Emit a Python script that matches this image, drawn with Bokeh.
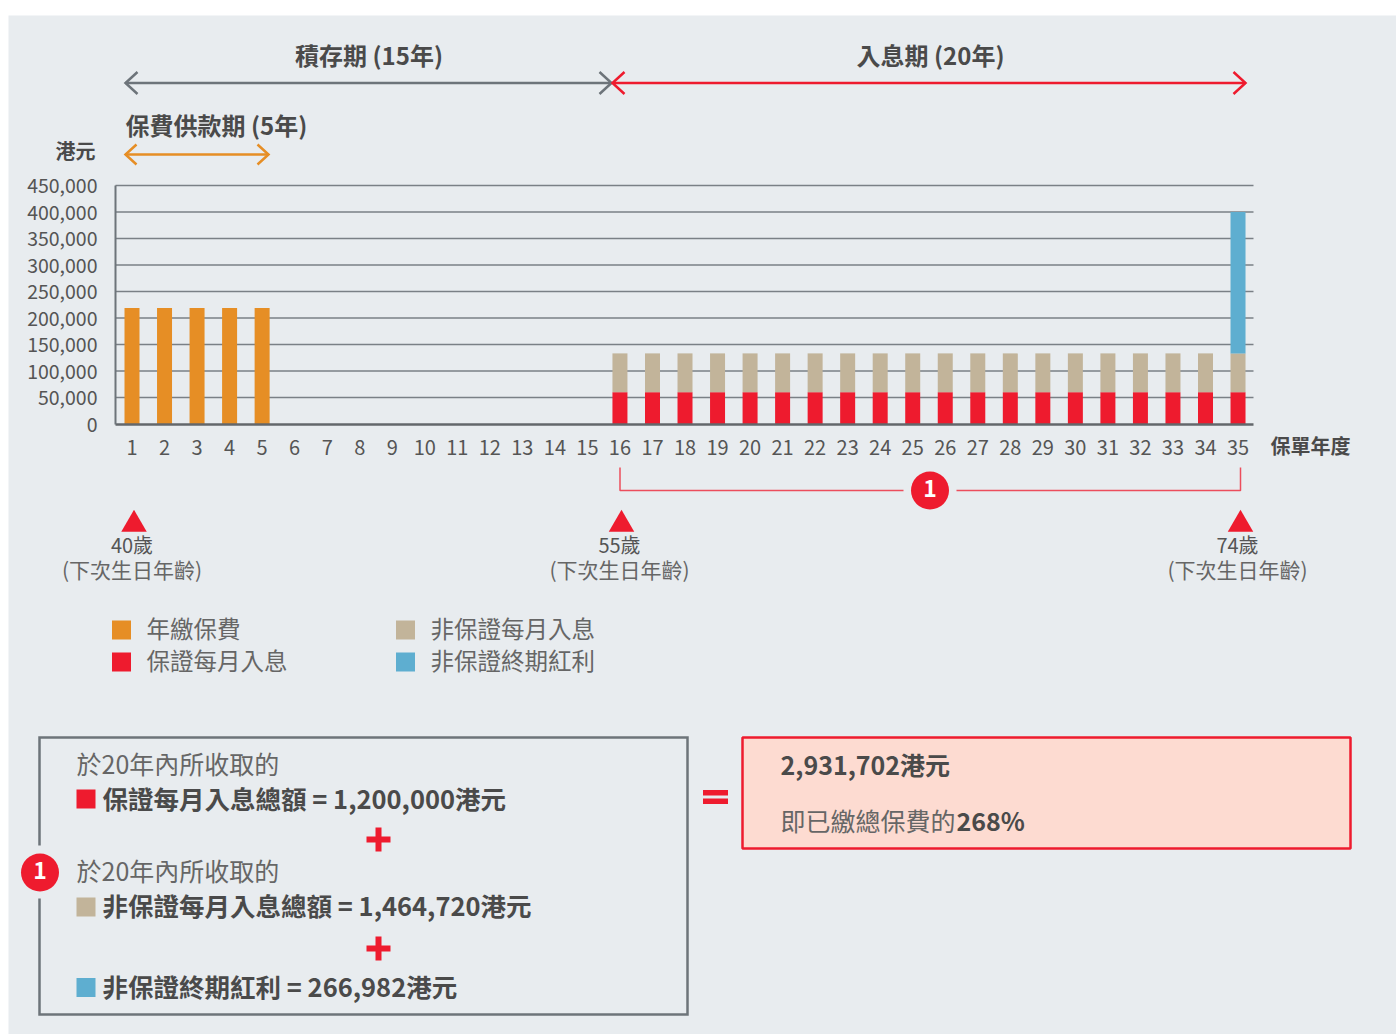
from bokeh.plotting import figure
from bokeh.models import Range1d, LinearAxis, FixedTicker, NumeralTickFormatter, ColumnDataSource
from bokeh.core.properties import value
from bokeh.embed import file_html
from bokeh.resources import INLINE

# ---------------- data ----------------
years = [1, 2, 3, 4, 5, 6, 7, 8, 9, 10, 11, 12, 13, 14, 15, 16, 17, 18,
         19, 20, 21, 22, 23, 24, 25, 26, 27, 28, 29, 30, 31, 32, 33, 34, 35]
annual_premium = [218800, 218800, 218800, 218800, 218800, 0, 0, 0, 0, 0,
                  0, 0, 0, 0, 0, 0, 0, 0, 0, 0, 0, 0, 0, 0, 0,
                  0, 0, 0, 0, 0, 0, 0, 0, 0, 0]
guaranteed_income = [0, 0, 0, 0, 0, 0, 0, 0, 0, 0, 0, 0, 0, 0, 0,
                     60000, 60000, 60000, 60000, 60000, 60000, 60000, 60000, 60000, 60000,
                     60000, 60000, 60000, 60000, 60000, 60000, 60000, 60000, 60000, 60000]
nonguaranteed_income = [0, 0, 0, 0, 0, 0, 0, 0, 0, 0, 0, 0, 0, 0, 0,
                        73236, 73236, 73236, 73236, 73236, 73236, 73236, 73236, 73236, 73236,
                        73236, 73236, 73236, 73236, 73236, 73236, 73236, 73236, 73236, 73236]
terminal_bonus = [0, 0, 0, 0, 0, 0, 0, 0, 0, 0, 0, 0, 0, 0, 0, 0, 0, 0, 0, 0,
                  0, 0, 0, 0, 0, 0, 0, 0, 0, 0, 0, 0, 0, 0, 266982]
y_ticks = [0, 50000, 100000, 150000, 200000, 250000, 300000, 350000, 400000, 450000]
series_names = ["年繳保費", "保證每月入息", "非保證每月入息", "非保證終期紅利"]
age_labels = ["40歲", "55歲", "74歲"]
age_note = "(下次生日年齡)"
total_guaranteed = "1,200,000"
total_nonguaranteed = "1,464,720"
total_bonus = "266,982"
grand_total = "2,931,702"
pct_of_premium = "268%"

# ---------------- style ----------------
FONT = "Noto Sans CJK TC"
ORANGE = "#e68e25"
RED = "#ee1b2e"
TAN = "#c2b49a"
BLUE = "#5eaed0"
BG = "#e8ecef"
PINK = "#fddbd1"
GRAY = "#6d747a"
DARK = "#4a4a4a"
MID = "#555555"
LIGHT = "#666666"

W, H = 1396, 1034
OX, OY = 0, 0            # page offset of the canvas
XC1, DX = 131.5, 32.53   # page x of year 1, px per year
Y0, KY = 423.5, 238.5 / 450000.0  # page y of value 0, px per unit
TEXT_DY = 2.5            # baseline correction for the CJK font


def X(px):
    return 1 + (px - XC1) / DX


def Y(py):
    return (Y0 - py) / KY


p = figure(width=W, height=H, output_backend="svg", toolbar_location=None,
           x_range=Range1d(X(OX), X(OX + W)), y_range=Range1d(Y(OY + H), Y(OY)),
           x_axis_type=None, y_axis_type=None, min_border=0)
p.outline_line_color = None
p.background_fill_color = "white"
p.border_fill_color = "white"

# background panel
p.quad(left=X(8), right=X(OX + W), top=Y(15), bottom=Y(OY + H), fill_color=BG, line_color=None)


def txt(px, py, s, size, color, bold=False, align="left"):
    p.text(x=[X(px)], y=[Y(py - TEXT_DY)], text=[s], text_font=value(FONT),
           text_font_size=f"{size}px", text_color=color,
           text_font_style="bold" if bold else "normal",
           text_align=align, text_baseline="middle")


def arrow(x0, x1, py, color, back=12, half=11, lw=2.5):
    p.line([X(x0), X(x1)], [Y(py), Y(py)], line_color=color, line_width=lw)
    p.line([X(x0 + back), X(x0), X(x0 + back)], [Y(py - half), Y(py), Y(py + half)],
           line_color=color, line_width=lw, line_join="miter")
    p.line([X(x1 - back), X(x1), X(x1 - back)], [Y(py - half), Y(py), Y(py + half)],
           line_color=color, line_width=lw, line_join="miter")


# ---------------- top period arrows ----------------
txt(368.5, 56, "積存期 (15年)", 24, DARK, bold=True, align="center")
txt(930, 56, "入息期 (20年)", 24, DARK, bold=True, align="center")
arrow(125, 611, 82.5, GRAY)
arrow(612, 1245, 82.5, RED)
txt(125, 126, "保費供款期 (5年)", 24, DARK, bold=True)
arrow(125, 268, 154, ORANGE, back=11, half=10)
txt(75, 152, "港元", 20, DARK, bold=True, align="center")

# ---------------- chart ----------------
grid_vals = y_ticks[1:]
p.segment(x0=[X(115)] * len(grid_vals), y0=grid_vals, x1=[X(1253)] * len(grid_vals), y1=grid_vals,
          line_color="#7a8086", line_width=1.5)

src = ColumnDataSource(dict(year=years, premium=annual_premium, guar=guaranteed_income,
                            nonguar=nonguaranteed_income, bonus=terminal_bonus))
p.vbar_stack(["premium", "guar", "nonguar", "bonus"], x="year", width=15 / DX,
             fill_color=[ORANGE, RED, TAN, BLUE], line_color=None, source=src)

yaxis = LinearAxis(fixed_location=X(115), ticker=FixedTicker(ticks=y_ticks),
                   formatter=NumeralTickFormatter(format="0,0"), bounds=(0, 450000))
yaxis.major_tick_line_color = None
yaxis.minor_tick_line_color = None
yaxis.axis_line_color = GRAY
yaxis.axis_line_width = 2
yaxis.major_label_text_font = FONT
yaxis.major_label_text_font_size = "19.5px"
yaxis.major_label_text_color = MID
yaxis.major_label_standoff = 12
p.add_layout(yaxis, "left")

xaxis = LinearAxis(fixed_location=0, ticker=FixedTicker(ticks=years), bounds=(X(115), X(1253)))
xaxis.major_tick_line_color = None
xaxis.minor_tick_line_color = None
xaxis.axis_line_color = "#63676b"
xaxis.axis_line_width = 2.5
xaxis.major_label_text_font = FONT
xaxis.major_label_text_font_size = "20px"
xaxis.major_label_text_color = MID
xaxis.major_label_standoff = 10
p.add_layout(xaxis, "below")

txt(1270, 447, "保單年度", 20, DARK, bold=True)

# bracket for income period
BR = "#ec4d5c"
p.line([X(619.5), X(619.5), X(903)], [Y(467), Y(490), Y(490)], line_color=BR, line_width=1.5)
p.line([X(956), X(1240), X(1240)], [Y(490), Y(490), Y(467)], line_color=BR, line_width=1.5)
p.scatter(x=[X(929.5)], y=[Y(490)], marker="circle", size=38, fill_color=RED, line_color=None)
txt(929.5, 490, "1", 23, "white", bold=True, align="center")

# age markers
tri_px = [133.5, 621, 1240]
lab_px = [131.5, 619, 1237]
p.scatter(x=[X(v) for v in tri_px], y=[Y(524)] * 3, marker="triangle", size=25.5,
          fill_color=RED, line_color=None)
for lx, lab in zip(lab_px, age_labels):
    txt(lx, 546, lab, 20, MID, align="center")
    txt(lx, 571, age_note, 21, LIGHT, align="center")

# legend
leg = [(121, 629.5, ORANGE, 146, series_names[0]), (121, 661.5, RED, 146, series_names[1]),
       (405, 629.5, TAN, 430, series_names[2]), (405, 661.5, BLUE, 430, series_names[3])]
for sx, sy, col, tx, name in leg:
    p.scatter(x=[X(sx)], y=[Y(sy)], marker="square", size=19, fill_color=col, line_color=None)
    txt(tx, sy, name, 23.5, LIGHT)

# ---------------- bottom-left summary box ----------------
p.line([X(39), X(39), X(687), X(687), X(39), X(39)],
       [Y(845), Y(737), Y(737), Y(1014), Y(1014), Y(898)],
       line_color=GRAY, line_width=2.5, line_join="miter")
p.scatter(x=[X(39.5)], y=[Y(872)], marker="circle", size=38, fill_color=RED, line_color=None)
txt(39.5, 872, "1", 23, "white", bold=True, align="center")

txt(76, 765, "於20年內所收取的", 25, LIGHT)
p.scatter(x=[X(85.5)], y=[Y(798.5)], marker="square", size=19, fill_color=RED, line_color=None)
txt(102, 799, f"保證每月入息總額 = {total_guaranteed}港元", 25.5, DARK, bold=True)
p.scatter(x=[X(378)], y=[Y(839)], marker="cross", size=24, line_color=RED, line_width=6)
txt(76, 872, "於20年內所收取的", 25, LIGHT)
p.scatter(x=[X(85.5)], y=[Y(906.5)], marker="square", size=19, fill_color=TAN, line_color=None)
txt(102, 906, f"非保證每月入息總額 = {total_nonguaranteed}港元", 25.5, DARK, bold=True)
p.scatter(x=[X(378)], y=[Y(948)], marker="cross", size=24, line_color=RED, line_width=6)
p.scatter(x=[X(85.5)], y=[Y(987)], marker="square", size=19, fill_color=BLUE, line_color=None)
txt(102, 987, f"非保證終期紅利 = {total_bonus}港元", 25.5, DARK, bold=True)

# equals sign
p.quad(left=[X(702.5)] * 2, right=[X(727.5)] * 2, top=[Y(789.5), Y(798)], bottom=[Y(795), Y(803.5)],
       fill_color=RED, line_color=None)

# ---------------- result box ----------------
p.quad(left=X(742), right=X(1350), top=Y(737), bottom=Y(848), fill_color=PINK,
       line_color=RED, line_width=2.5)
txt(780, 765.5, f"{grand_total}港元", 25, DARK, bold=True)
txt(780, 822, "即已繳總保費的", 25, LIGHT)
txt(956, 822, pct_of_premium, 25, DARK, bold=True)

open("out.html", "w").write(file_html(p, INLINE))
